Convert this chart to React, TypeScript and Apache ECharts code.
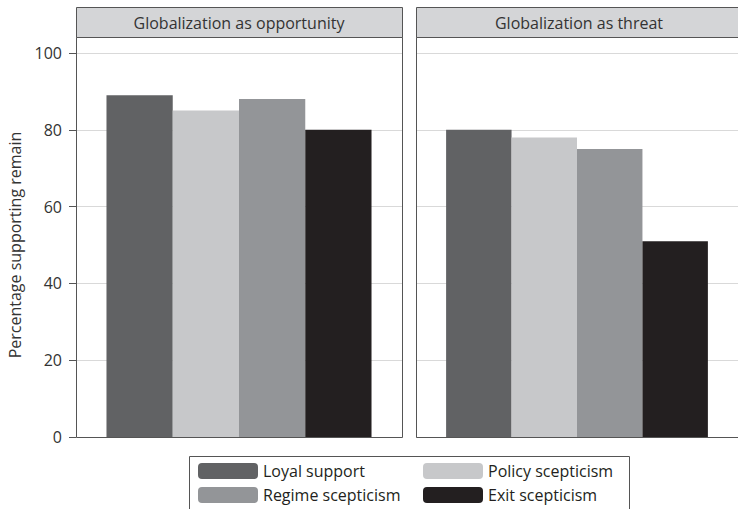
import React, { useEffect, useRef } from "react";
import * as echarts from "echarts";

const panels = ["Globalization as opportunity", "Globalization as threat"];
const seriesNames = ["Loyal support", "Policy scepticism", "Regime scepticism", "Exit scepticism"];
const opportunityValues = [89, 85, 88, 80];
const threatValues = [80, 78, 75, 51];
const colors = ["#616264", "#c7c8ca", "#939598", "#231f20"];
const yTicks = [0, 20, 40, 60, 80, 100];
const yTitle = "Percentage supporting remain";

const FONT = "Open Sans";
const FS = 16;

export default function App() {
  const ref = useRef<HTMLDivElement>(null);
  useEffect(() => {
    if (!ref.current) return;
    const chart = echarts.init(ref.current, null, { renderer: "svg" });
    const panelVals = [opportunityValues, threatValues];
    const series: any[] = [];
    seriesNames.forEach((name, si) => {
      panelVals.forEach((vals, pi) => {
        series.push({
          type: "bar",
          name,
          xAxisIndex: pi,
          yAxisIndex: pi,
          data: [vals[si]],
          barGap: "0%",
          barCategoryGap: "18.7%",
          itemStyle: { color: colors[si] },
        });
      });
    });
    const grids = [
      { left: 76, top: 53, width: 326, bottom: 72 },
      { left: 416, top: 53, width: 326, bottom: 72 },
    ];
    const graphics: any[] = [];
    grids.forEach((g, i) => {
      graphics.push({
        type: "rect",
        z: 100,
        shape: { x: g.left + 0.5, y: 37.5, width: g.width, height: 400 },
        style: { fill: "none", stroke: "#555", lineWidth: 1 },
      });
      graphics.push({
        type: "rect",
        z: 100,
        shape: { x: g.left + 0.5, y: 7.5, width: g.width, height: 30 },
        style: { fill: "#d4d5d7", stroke: "#555", lineWidth: 1 },
      });
      graphics.push({
        type: "text",
        z: 101,
        x: g.left + g.width / 2,
        y: 22.5,
        style: {
          text: panels[i],
          fill: "#333",
          font: `${FS}px "${FONT}"`,
          textAlign: "center",
          textVerticalAlign: "middle",
        },
      });
    });
    graphics.push({
      type: "rect",
      z: 100,
      shape: { x: 189.5, y: 456.5, width: 440, height: 60 },
      style: { fill: "none", stroke: "#555", lineWidth: 1 },
    });
    chart.setOption({
      animation: false,
      textStyle: { fontFamily: FONT },
      grid: grids,
      xAxis: grids.map((_, i) => ({
        type: "category",
        gridIndex: i,
        data: [panels[i]],
        axisLine: { show: false },
        axisTick: { show: false },
        axisLabel: { show: false },
      })),
      yAxis: grids.map((_, i) => ({
        type: "value",
        gridIndex: i,
        min: yTicks[0],
        max: yTicks[yTicks.length - 1],
        interval: 20,
        name: i === 0 ? yTitle : "",
        nameLocation: "middle",
        nameGap: 53,
        nameTextStyle: { fontSize: FS, color: "#333", fontFamily: FONT },
        axisLine: { show: false },
        axisTick: { show: i === 0, length: 7, lineStyle: { color: "#555" } },
        axisLabel: { show: i === 0, margin: 14, fontSize: FS, color: "#333", fontFamily: FONT },
        splitLine: { show: true, lineStyle: { color: "#d9d9d9", width: 1 } },
      })),
      legend: [
        {
          data: [seriesNames[0], seriesNames[2]],
          orient: "vertical",
          left: 193,
          top: 458,
          itemWidth: 60,
          itemHeight: 16,
          itemGap: 8,
          textStyle: { fontSize: FS, color: "#231f20", fontFamily: FONT },
        },
        {
          data: [seriesNames[1], seriesNames[3]],
          orient: "vertical",
          left: 418,
          top: 458,
          itemWidth: 60,
          itemHeight: 16,
          itemGap: 8,
          textStyle: { fontSize: FS, color: "#231f20", fontFamily: FONT },
        },
      ],
      graphic: graphics,
      series,
    });
    return () => chart.dispose();
  }, []);
  return <div ref={ref} style={{ width: 738, height: 509, position: "fixed", left: 0, top: 0, background: "#fff" }} />;
}
